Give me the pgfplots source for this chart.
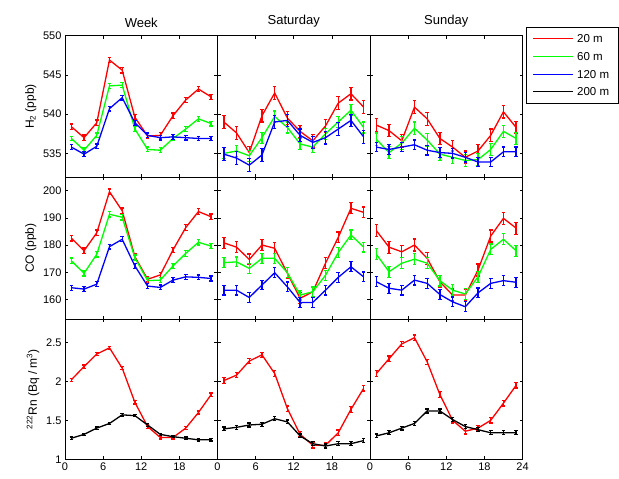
\documentclass[border=0pt]{standalone}
\usepackage{pgfplots}
\usepackage{pgfplotstable}
\pgfplotsset{compat=1.18}
\usepackage{fontspec}
\setmainfont{Liberation Sans}

% ---------- H2 ----------
\pgfplotstableread{
x r g b
1 538.4 536.9 535.8
3 537.0 535.4 534.9
5 538.9 537.3 535.9
7 546.9 543.6 540.7
9 545.6 543.7 542.1
11 539.6 538.1 538.9
13 537.2 535.5 537.3
15 537.3 535.4 537.0
17 539.8 536.9 537.1
19 541.8 538.1 537.0
21 543.2 539.4 536.9
23 542.2 538.8 536.9
}\HWeek
\pgfplotstableread{
x r g b
1 539.0 535.0 534.9
3 537.6 535.3 534.4
5 535.1 534.7 533.5
7 539.8 537.0 534.8
9 542.7 539.7 539.0
11 539.5 538.3 539.2
13 537.8 536.2 537.3
15 536.6 535.8 536.4
17 538.5 537.5 537.0
19 541.4 539.0 538.1
21 542.6 540.5 539.2
23 540.9 538.3 537.1
}\HSat
\pgfplotstableread{
x r g b
1 538.6 536.8 535.8
3 537.9 535.1 535.5
5 536.6 536.3 535.8
7 540.9 538.2 536.1
9 539.4 536.7 535.4
11 536.9 534.9 535.1
13 535.8 534.5 535.0
15 534.5 534.1 534.5
17 535.3 534.2 533.9
19 537.3 535.5 533.9
21 540.3 537.8 535.2
23 538.3 536.9 535.2
}\HSun
% ---------- CO ----------
\pgfplotstableread{
x r g b
1 182.5 174.2 164.3
3 177.9 169.6 163.8
5 184.5 176.6 165.6
7 199.6 191.3 179.4
9 192.6 190.2 182.1
11 175.7 175.3 172.3
13 167.4 166.9 164.9
15 169.0 167.1 164.4
17 178.2 172.3 167.1
19 186.4 176.9 168.3
21 192.3 181.0 168.1
23 190.4 179.6 167.7
}\CWeek
\pgfplotstableread{
x r g b
1 180.8 173.5 163.4
3 179.2 173.8 163.4
5 174.7 171.4 160.7
7 180.0 175.1 165.3
9 178.8 175.1 169.8
11 169.6 169.8 164.6
13 160.4 161.6 158.9
15 162.8 162.8 158.9
17 173.3 168.9 163.4
19 182.8 177.2 168.1
21 193.5 183.7 172.0
23 192.0 179.2 168.3
}\CSat
\pgfplotstableread{
x r g b
1 185.3 176.6 166.5
3 179.2 170.2 164.1
5 177.5 173.3 163.4
7 180.0 174.8 167.1
9 175.1 173.3 165.9
11 166.5 166.9 161.8
13 161.6 163.4 159.1
15 161.6 162.0 157.3
17 170.8 168.3 162.4
19 183.3 178.4 165.9
21 189.8 182.1 166.9
23 186.2 177.9 166.3
}\CSun
% ---------- Rn ----------
\pgfplotstableread{
x r k
1 2.02 1.27
3 2.19 1.32
5 2.35 1.40
7 2.43 1.46
9 2.17 1.57
11 1.73 1.56
13 1.42 1.44
15 1.28 1.32
17 1.28 1.29
19 1.40 1.27
21 1.60 1.25
23 1.83 1.25
}\RWeek
\pgfplotstableread{
x r k
1 2.01 1.39
3 2.08 1.41
5 2.26 1.44
7 2.34 1.45
9 2.10 1.52
11 1.65 1.48
13 1.32 1.30
15 1.18 1.20
17 1.18 1.17
19 1.34 1.20
21 1.64 1.20
23 1.91 1.24
}\RSat
\pgfplotstableread{
x r k
1 2.10 1.30
3 2.29 1.34
5 2.48 1.40
7 2.56 1.46
9 2.25 1.62
11 1.83 1.62
13 1.50 1.51
15 1.36 1.42
17 1.40 1.38
19 1.50 1.34
21 1.72 1.34
23 1.95 1.34
}\RSun

\pgfplotsset{
  panel/.style={scale only axis, width=152.5pt, anchor=south west,
    xmin=0, xmax=24, xtick={0,6,12,18,24},
    tick align=inside, major tick length=3pt,
    axis line style={line width=0.8pt},
    tick style={line width=0.6pt, draw=black},
    tick label style={font=\fontsize{11}{13}\selectfont},
    label style={font=\fontsize{12}{14}\selectfont},
    title style={font=\fontsize{13}{15}\selectfont, yshift=-1pt},
    /pgf/number format/assume math mode=true,
  },
  ser/.style 2 args={draw=#1, color=#1, line width=1.3pt, forget plot,
    error bars/.cd, y dir=both, y fixed=#2,
    error bar style={draw=#1, color=#1, line width=1.3pt},
    error mark options={draw=#1, color=#1, rotate=90, mark size=1.8pt, line width=1.2pt}},
  hrow/.style={panel, height=141.6pt, ymin=531.95, ymax=550, ytick={535,540,545,550}, xticklabels=\empty},
  crow/.style={panel, height=141.7pt, ymin=152.8, ymax=204.9, ytick={160,170,180,190,200}, xticklabels=\empty},
  rrow/.style={panel, height=140.3pt, ymin=1, ymax=2.8, ytick={1,1.5,2,2.5}},
}

\begin{document}
\begin{tikzpicture}
\path[use as bounding box] (0pt,0pt) rectangle (619pt,479pt);

% ===== Row 1: H2 =====
\begin{axis}[hrow, at={(65pt,301.7pt)}, title={Week}, ylabel={H\textsubscript{2} (ppb)}]
\addplot[ser={red}{0.35}] table[x=x,y=r]{\HWeek};
\addplot[ser={green}{0.3}] table[x=x,y=g]{\HWeek};
\addplot[ser={blue}{0.3}] table[x=x,y=b]{\HWeek};
\end{axis}
\begin{axis}[hrow, at={(217.5pt,301.7pt)}, title={Saturday}, yticklabels=\empty]
\addplot[ser={red}{0.8}] table[x=x,y=r]{\HSat};
\addplot[ser={green}{0.7}] table[x=x,y=g]{\HSat};
\addplot[ser={blue}{0.8}] table[x=x,y=b]{\HSat};
\end{axis}
\begin{axis}[hrow, at={(370pt,301.7pt)}, title={Sunday}, yticklabels=\empty]
\addplot[ser={red}{0.8}] table[x=x,y=r]{\HSun};
\addplot[ser={green}{0.8}] table[x=x,y=g]{\HSun};
\addplot[ser={blue}{0.6}] table[x=x,y=b]{\HSun};
\end{axis}

% ===== Row 2: CO =====
\begin{axis}[crow, at={(65pt,160pt)}, ylabel={CO (ppb)}]
\addplot[ser={red}{1.0}] table[x=x,y=r]{\CWeek};
\addplot[ser={green}{1.0}] table[x=x,y=g]{\CWeek};
\addplot[ser={blue}{0.9}] table[x=x,y=b]{\CWeek};
\end{axis}
\begin{axis}[crow, at={(217.5pt,160pt)}, yticklabels=\empty]
\addplot[ser={red}{2.0}] table[x=x,y=r]{\CSat};
\addplot[ser={green}{1.8}] table[x=x,y=g]{\CSat};
\addplot[ser={blue}{1.8}] table[x=x,y=b]{\CSat};
\end{axis}
\begin{axis}[crow, at={(370pt,160pt)}, yticklabels=\empty]
\addplot[ser={red}{2.2}] table[x=x,y=r]{\CSun};
\addplot[ser={green}{2.0}] table[x=x,y=g]{\CSun};
\addplot[ser={blue}{1.8}] table[x=x,y=b]{\CSun};
\end{axis}

% ===== Row 3: Rn =====
\begin{axis}[rrow, at={(65pt,19.7pt)}, xticklabels={0,6,12,18,{}},
  ylabel={\textsuperscript{222}Rn (Bq / m\textsuperscript{3})}]
\addplot[ser={red}{0.02}] table[x=x,y=r]{\RWeek};
\addplot[ser={black}{0.015}] table[x=x,y=k]{\RWeek};
\end{axis}
\begin{axis}[rrow, at={(217.5pt,19.7pt)}, xticklabels={0,6,12,18,{}}, yticklabels=\empty]
\addplot[ser={red}{0.035}] table[x=x,y=r]{\RSat};
\addplot[ser={black}{0.025}] table[x=x,y=k]{\RSat};
\end{axis}
\begin{axis}[rrow, at={(370pt,19.7pt)}, xticklabels={0,6,12,18,24}, yticklabels=\empty]
\addplot[ser={red}{0.035}] table[x=x,y=r]{\RSun};
\addplot[ser={black}{0.025}] table[x=x,y=k]{\RSun};
\end{axis}

% ===== Legend =====
\draw[black, line width=0.7pt, fill=white] (526pt,375.7pt) rectangle (618.4pt,451.7pt);
\draw[red,   line width=1.3pt] (533.3pt,440.5pt) -- (572.7pt,440.5pt);
\draw[green, line width=1.3pt] (533.3pt,422.5pt) -- (572.7pt,422.5pt);
\draw[blue,  line width=1.3pt] (533.3pt,404.5pt) -- (572.7pt,404.5pt);
\draw[black, line width=1.3pt] (533.3pt,387.5pt) -- (572.7pt,387.5pt);
\begin{scope}[every node/.style={anchor=west, inner sep=0pt, font=\fontsize{11.5}{13}\selectfont}]
\node at (577pt,440.5pt) {20 m};
\node at (577pt,422.5pt) {60 m};
\node at (577pt,404.5pt) {120 m};
\node at (577pt,387.5pt) {200 m};
\end{scope}
\end{tikzpicture}
\end{document}
